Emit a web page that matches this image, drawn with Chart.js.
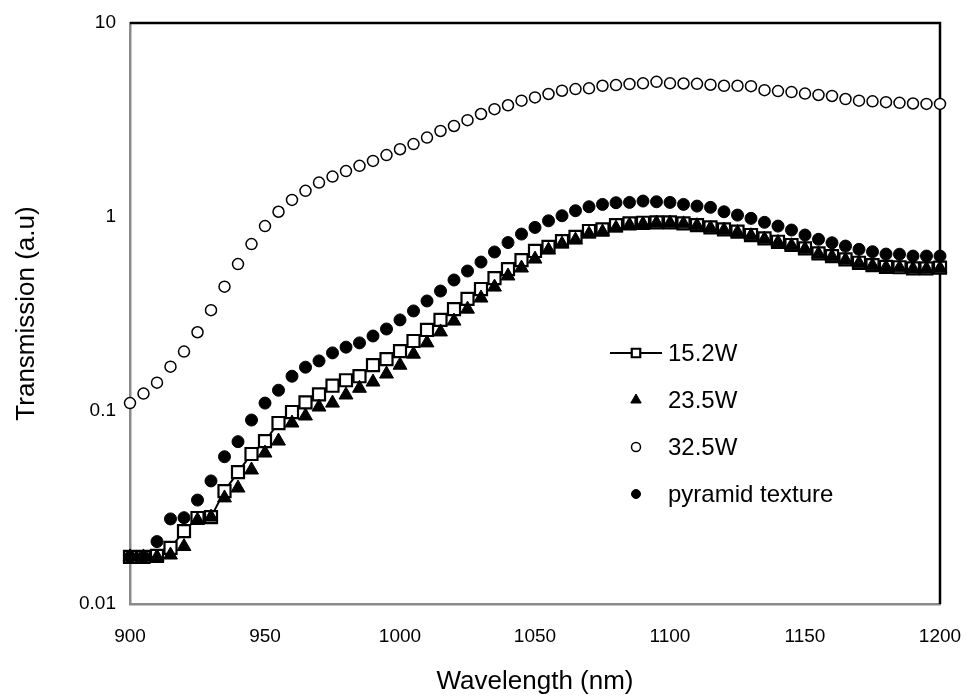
<!DOCTYPE html>
<html>
<head>
<meta charset="utf-8">
<script src="https://cdn.jsdelivr.net/npm/chart.js@4.4.1/dist/chart.umd.min.js"></script>
<style>
  html, body { margin: 0; padding: 0; background: #fff; }
  #wrap { width: 966px; height: 697px; }
</style>
</head>
<body>
<div id="wrap"><canvas id="chart" width="966" height="697"></canvas></div>
<script>
// Transmission spectra, log scale

const wavelengths = [
  900, 905, 910, 915, 920, 925, 930, 935, 940, 945,
  950, 955, 960, 965, 970, 975, 980, 985, 990, 995,
  1000, 1005, 1010, 1015, 1020, 1025, 1030, 1035, 1040, 1045,
  1050, 1055, 1060, 1065, 1070, 1075, 1080, 1085, 1090, 1095,
  1100, 1105, 1110, 1115, 1120, 1125, 1130, 1135, 1140, 1145,
  1150, 1155, 1160, 1165, 1170, 1175, 1180, 1185, 1190, 1195,
  1200
];

const w152 = [
  0.0175, 0.0175, 0.0177, 0.0195, 0.0238, 0.0278, 0.0281, 0.0383, 0.048, 0.0595,
  0.0694, 0.086, 0.098, 0.110, 0.121, 0.134, 0.143, 0.150, 0.171, 0.184,
  0.202, 0.228, 0.260, 0.293, 0.333, 0.376, 0.423, 0.482, 0.536, 0.597,
  0.665, 0.699, 0.748, 0.787, 0.843, 0.860, 0.905, 0.923, 0.930, 0.935,
  0.935, 0.923, 0.905, 0.880, 0.860, 0.836, 0.804, 0.773, 0.742, 0.714,
  0.686, 0.646, 0.626, 0.602, 0.578, 0.562, 0.551, 0.548, 0.541, 0.541,
  0.545
];

const w235 = [
  0.0175, 0.0175, 0.0175, 0.0179, 0.0198, 0.0271, 0.0281, 0.0353, 0.0397, 0.0492,
  0.0602, 0.0694, 0.086, 0.0935, 0.104, 0.109, 0.120, 0.130, 0.140, 0.154,
  0.171, 0.195, 0.223, 0.254, 0.289, 0.333, 0.380, 0.433, 0.494, 0.543,
  0.604, 0.672, 0.722, 0.757, 0.813, 0.833, 0.873, 0.905, 0.916, 0.927,
  0.927, 0.918, 0.898, 0.872, 0.852, 0.828, 0.797, 0.766, 0.736, 0.708,
  0.680, 0.641, 0.621, 0.597, 0.574, 0.558, 0.547, 0.544, 0.537, 0.537,
  0.541
];

const w325 = [
  0.109, 0.122, 0.139, 0.168, 0.201, 0.253, 0.329, 0.435, 0.569, 0.722,
  0.894, 1.06, 1.22, 1.36, 1.50, 1.61, 1.72, 1.83, 1.94, 2.08,
  2.23, 2.37, 2.56, 2.77, 2.94, 3.15, 3.39, 3.59, 3.76, 3.97,
  4.13, 4.30, 4.47, 4.56, 4.60, 4.74, 4.78, 4.84, 4.88, 4.97,
  4.88, 4.87, 4.85, 4.80, 4.74, 4.74, 4.72, 4.50, 4.45, 4.40,
  4.32, 4.25, 4.20, 4.05, 3.97, 3.94, 3.90, 3.87, 3.84, 3.82,
  3.82
];

const pyramid = [
  0.0175, 0.0175, 0.021, 0.0275, 0.0279, 0.0344, 0.0432, 0.0576, 0.0689, 0.0891,
  0.109, 0.127, 0.150, 0.167, 0.180, 0.198, 0.212, 0.223, 0.242, 0.263,
  0.293, 0.326, 0.367, 0.413, 0.471, 0.524, 0.583, 0.657, 0.735, 0.813,
  0.880, 0.952, 1.011, 1.073, 1.125, 1.157, 1.180, 1.185, 1.204, 1.194,
  1.185, 1.157, 1.134, 1.117, 1.06, 1.019, 0.980, 0.935, 0.894, 0.853,
  0.804, 0.764, 0.733, 0.705, 0.678, 0.659, 0.641, 0.640, 0.626, 0.626,
  0.626
];

const seriesLabels = ['15.2W', '23.5W', '32.5W', 'pyramid texture'];
const yTicks = [0.01, 0.1, 1, 10];

const FONT = "'Liberation Sans', Arial, sans-serif";

function toPoints(values) {
  return values.map((v, i) => ({ x: wavelengths[i], y: v }));
}

// Legend drawn inside the plot area, like the original
const insideLegend = {
  id: 'insideLegend',
  afterDraw(chart) {
    const ctx = chart.ctx;
    const rows = [353, 400, 447, 494];
    const markerX = 636;
    const textX = 668;
    const sizes = [6, 6, 4.5, 4.5];
    ctx.save();
    chart.data.datasets.forEach((ds, i) => {
      const y = rows[i];
      if (ds.showLine) {
        ctx.strokeStyle = ds.borderColor;
        ctx.lineWidth = ds.borderWidth;
        ctx.beginPath();
        ctx.moveTo(610, y);
        ctx.lineTo(662, y);
        ctx.stroke();
      }
      ctx.fillStyle = ds.pointBackgroundColor;
      ctx.strokeStyle = ds.pointBorderColor;
      ctx.lineWidth = ds.pointBorderWidth;
      Chart.helpers.drawPoint(ctx, {
        pointStyle: ds.pointStyle,
        radius: sizes[i],
        rotation: 0,
        borderWidth: ds.pointBorderWidth
      }, markerX, y);
      ctx.fillStyle = '#000';
      ctx.font = '24px ' + FONT;
      ctx.textAlign = 'left';
      ctx.textBaseline = 'middle';
      ctx.fillText(ds.label, textX, y + 1);
    });
    ctx.restore();
  }
};

// Black top and right frame lines
const frame = {
  id: 'frame',
  beforeDatasetsDraw(chart) {
    const { ctx, chartArea: a } = chart;
    ctx.save();
    ctx.strokeStyle = '#000';
    ctx.lineWidth = 2.5;
    ctx.beginPath();
    ctx.moveTo(a.left, a.top);
    ctx.lineTo(a.right, a.top);
    ctx.lineTo(a.right, a.bottom);
    ctx.stroke();
    ctx.restore();
  }
};

new Chart(document.getElementById('chart'), {
  type: 'scatter',
  data: {
    datasets: [{
      label: seriesLabels[0],
      data: toPoints(w152),
      showLine: true,
      borderColor: '#000',
      borderWidth: 2,
      pointStyle: 'rect',
      pointRadius: 8.5,
      pointBackgroundColor: '#fff',
      pointBorderColor: '#000',
      pointBorderWidth: 2.2,
      order: 4
    }, {
      label: seriesLabels[1],
      data: toPoints(w235),
      showLine: false,
      pointStyle: 'triangle',
      pointRadius: 8,
      pointBackgroundColor: '#000',
      pointBorderColor: '#000',
      pointBorderWidth: 1,
      order: 3
    }, {
      label: seriesLabels[2],
      data: toPoints(w325),
      showLine: false,
      pointStyle: 'circle',
      pointRadius: 5.5,
      pointBackgroundColor: '#fff',
      pointBorderColor: '#000',
      pointBorderWidth: 1.5,
      order: 2
    }, {
      label: seriesLabels[3],
      data: toPoints(pyramid),
      showLine: false,
      pointStyle: 'circle',
      pointRadius: 6,
      pointBackgroundColor: '#000',
      pointBorderColor: '#000',
      pointBorderWidth: 1,
      order: 1
    }]
  },
  options: {
    responsive: false,
    animation: false,
    clip: false,
    layout: {
      padding: { left: 0, right: 26, top: 23, bottom: 0 }
    },
    plugins: {
      legend: { display: false },
      tooltip: { enabled: false }
    },
    scales: {
      x: {
        type: 'linear',
        min: 900,
        max: 1200,
        grid: {
          display: true,
          drawOnChartArea: false,
          drawTicks: true,
          tickLength: 18,
          color: 'rgba(0,0,0,0)'
        },
        border: { display: true, color: '#8a8a8a', width: 2.5 },
        ticks: {
          stepSize: 50,
          padding: 3,
          color: '#000',
          font: { family: FONT, size: 19 },
          callback: value => String(value)
        },
        title: {
          display: true,
          text: 'Wavelength (nm)',
          color: '#000',
          padding: { top: 0, bottom: 0 },
          font: { family: FONT, size: 26 }
        },
        afterFit(scale) { scale.height = 93; }
      },
      y: {
        type: 'logarithmic',
        min: 0.01,
        max: 10,
        grid: {
          display: true,
          drawOnChartArea: false,
          drawTicks: true,
          tickLength: 11,
          color: 'rgba(0,0,0,0)'
        },
        border: { display: true, color: '#8a8a8a', width: 2.5 },
        afterBuildTicks(scale) {
          scale.ticks = yTicks.map(v => ({ value: v }));
        },
        ticks: {
          padding: 3,
          color: '#000',
          font: { family: FONT, size: 19 },
          callback: value => String(value)
        },
        title: {
          display: true,
          text: 'Transmission (a.u)',
          color: '#000',
          padding: { top: 11, bottom: 0 },
          font: { family: FONT, size: 26 }
        },
        afterFit(scale) { scale.width = 130; }
      }
    }
  },
  plugins: [frame, insideLegend]
});
</script>
</body>
</html>
